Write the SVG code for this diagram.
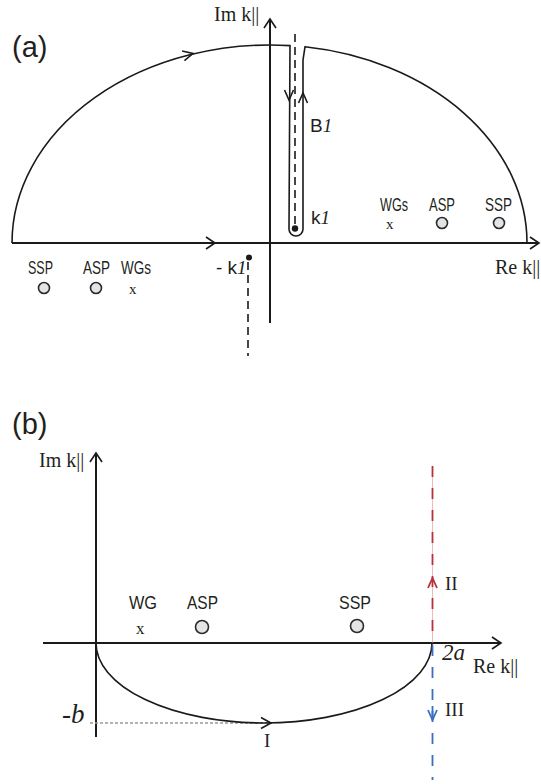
<svg xmlns="http://www.w3.org/2000/svg" width="541" height="784" viewBox="0 0 541 784">
<style>
.ax{fill:none;stroke:#1a1a1a;stroke-width:2}
.ct{fill:none;stroke:#1a1a1a;stroke-width:1.6}
.ah{fill:none;stroke:#1a1a1a;stroke-width:1.6;stroke-linejoin:miter}
.dash{fill:none;stroke:#1a1a1a;stroke-width:1.6;stroke-dasharray:8 5}
.pt{fill:#e3e4e5;stroke:#2a2a2a;stroke-width:1.6}
.sans{font-family:"Liberation Sans",Arial,sans-serif;fill:#231f20}
.serif{font-family:"Liberation Serif","Times New Roman",serif;fill:#231f20}
.it{font-style:italic}
</style>
<rect width="541" height="784" fill="#fff"/>

<!-- Panel (a) -->
<g id="panel-a-label"><text class="sans" x="12" y="57" font-size="29">(a)</text></g>
<g id="axes-a">
  <line class="ax" x1="270" y1="19" x2="270" y2="323"/>
  <path class="ah" d="M264 28 L270 19 L276 28"/>
  <line class="ax" x1="12" y1="243" x2="539" y2="243"/>
  <path class="ah" d="M530 237 L539 243 L530 249"/>
  <text class="serif" x="214" y="21" font-size="20">Im k||</text>
  <text class="serif" x="495" y="274" font-size="20">Re k||</text>
</g>
<g id="connectors-a">
  <path class="ct" d="M12 243 A258 198 0 0 1 290 45.6 L289 229 A7 7 0 0 0 303 229 L303 60 L305 46.8 A258 198 0 0 1 527 243"/>
  <path class="ah" d="M206 237 L215 243 L206 249"/>
  <path class="ah" transform="translate(193,53.5) rotate(-13.5)" d="M-10 -5 L0 0 L-10 5"/>
  <path class="ah" d="M284.5 90 L289 100 L293.5 90"/>
  <path class="ah" d="M298.5 103 L303 93 L307.5 103"/>
  <line class="dash" x1="295" y1="34" x2="295" y2="226"/>
  <line class="dash" x1="248" y1="262" x2="248" y2="356"/>
</g>
<g id="branch-point-k1">
  <circle cx="295" cy="228.5" r="3.2" fill="#1a1a1a"/>
  <text class="sans" x="311" y="224" font-size="19">k<tspan class="serif it">1</tspan></text>
</g>
<g id="branch-cut-B1">
  <text class="sans" x="310" y="132" font-size="19">B<tspan class="serif it">1</tspan></text>
</g>
<g id="branch-point-minus-k1">
  <circle cx="249" cy="257.5" r="3" fill="#1a1a1a"/>
  <text class="sans" x="216" y="274" font-size="19">- k<tspan class="serif it">1</tspan></text>
</g>
<g id="WGs-right">
  <text class="sans" x="380" y="211" font-size="17.5" textLength="28" lengthAdjust="spacingAndGlyphs">WGs</text>
  <text class="serif" x="386" y="229" font-size="15">x</text>
</g>
<g id="ASP-right">
  <text class="sans" x="429" y="211" font-size="17.5" textLength="26" lengthAdjust="spacingAndGlyphs">ASP</text>
  <circle class="pt" cx="442" cy="223" r="5.5"/>
</g>
<g id="SSP-right">
  <text class="sans" x="485" y="211" font-size="17.5" textLength="27" lengthAdjust="spacingAndGlyphs">SSP</text>
  <circle class="pt" cx="499" cy="223" r="5.5"/>
</g>
<g id="SSP-left">
  <text class="sans" x="28" y="274" font-size="17.5" textLength="25" lengthAdjust="spacingAndGlyphs">SSP</text>
  <circle class="pt" cx="44" cy="288" r="5.5"/>
</g>
<g id="ASP-left">
  <text class="sans" x="83" y="274" font-size="17.5" textLength="27" lengthAdjust="spacingAndGlyphs">ASP</text>
  <circle class="pt" cx="96" cy="288" r="5.5"/>
</g>
<g id="WGs-left">
  <text class="sans" x="121" y="274" font-size="17.5" textLength="30" lengthAdjust="spacingAndGlyphs">WGs</text>
  <text class="serif" x="129" y="294" font-size="15">x</text>
</g>

<!-- Panel (b) -->
<g id="panel-b-label"><text class="sans" x="12" y="434" font-size="29">(b)</text></g>
<g id="axes-b">
  <line class="ax" x1="96" y1="453" x2="96" y2="737"/>
  <path class="ah" d="M90 462 L96 453 L102 462"/>
  <line class="ax" x1="43" y1="643" x2="501" y2="643"/>
  <path class="ah" d="M492 637 L501 643 L492 649"/>
  <text class="serif" x="39" y="467" font-size="20">Im k||</text>
  <text class="serif" x="473" y="673" font-size="20">Re k||</text>
  <text class="serif it" x="442" y="660" font-size="23">2a</text>
  <text class="serif it" x="62" y="723" font-size="27">-b</text>
</g>
<g id="connectors-b">
  <line x1="90" y1="723" x2="268" y2="723" stroke="#9a9a9a" stroke-width="1.4" stroke-dasharray="3 2"/>
  <path class="ct" d="M96 643 A168 80 0 0 0 432 643"/>
  <path class="ah" d="M261 717.5 L271 723 L261 728.5"/>
  <line x1="432.5" y1="466" x2="432.5" y2="643" stroke="#e9a8a6" stroke-width="0.8"/>
  <line x1="432.5" y1="466" x2="432.5" y2="643" stroke="#b3353a" stroke-width="1.8" stroke-dasharray="11 11"/>
  <path fill="none" stroke="#b3353a" stroke-width="1.8" d="M428 588 L432.5 578 L437 588"/>
  <line x1="432.5" y1="643" x2="432.5" y2="780" stroke="#3a6ebf" stroke-width="1.8" stroke-dasharray="11 11" stroke-dashoffset="-2"/>
  <path fill="none" stroke="#3a6ebf" stroke-width="1.8" d="M428 710 L432.5 720 L437 710"/>
  <line x1="432.5" y1="706" x2="432.5" y2="720" stroke="#3a6ebf" stroke-width="1.8"/>
  <text class="serif" x="264" y="747" font-size="19">I</text>
  <text class="serif" x="445" y="590" font-size="19">II</text>
  <text class="serif" x="445" y="716" font-size="19">III</text>
</g>
<g id="WG-b">
  <text class="sans" x="129" y="609" font-size="18.5" textLength="28" lengthAdjust="spacingAndGlyphs">WG</text>
  <text class="serif" x="136" y="634" font-size="17">x</text>
</g>
<g id="ASP-b">
  <text class="sans" x="187" y="609" font-size="18.5" textLength="31" lengthAdjust="spacingAndGlyphs">ASP</text>
  <circle class="pt" cx="202" cy="627" r="6.5"/>
</g>
<g id="SSP-b">
  <text class="sans" x="339" y="609" font-size="18.5" textLength="32" lengthAdjust="spacingAndGlyphs">SSP</text>
  <circle class="pt" cx="357" cy="626" r="6.5"/>
</g>
</svg>
